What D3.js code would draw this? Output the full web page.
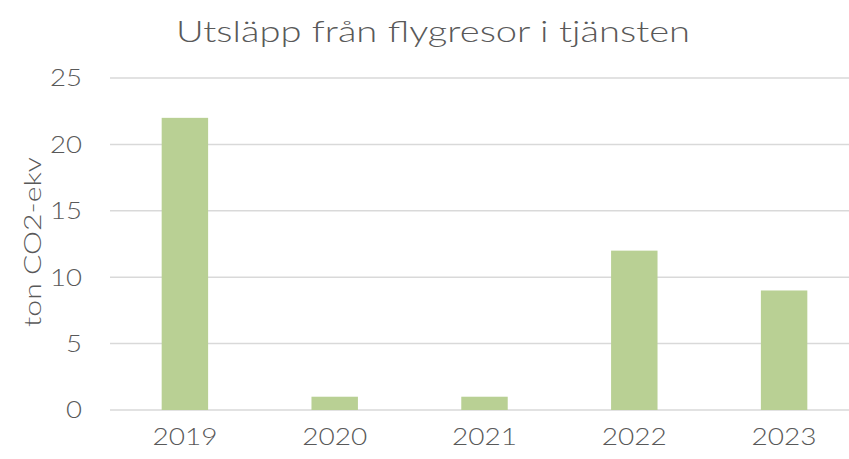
<!DOCTYPE html>
<html><head><meta charset="utf-8">
<script src="https://cdn.jsdelivr.net/npm/d3@7"></script>
<style>body{margin:0;background:#fff;}svg{display:block;}</style>
</head><body>
<svg id="chart" width="849" height="459"></svg>
<script>
const categories = ["2019","2020","2021","2022","2023"];
const values = [22, 1, 1, 12, 9];
const yTicks = [0,5,10,15,20,25];
const title = "Utsläpp från flygresor i tjänsten";
const yTitle = "ton CO2-ekv";

const svg = d3.select("#chart");
const W = 849, H = 459;
const font = "'Lato','Noto Sans',sans-serif";
const textColor = "#595959";

const x = d3.scaleBand().domain(categories).range([110, 859]).paddingInner(0.69).paddingOuter(0.345);
const y = d3.scaleLinear().domain([0,25]).range([410, 78]);

// gridlines
svg.append("g").selectAll("line").data(yTicks).join("line")
  .attr("x1", 110).attr("x2", W)
  .attr("y1", d => y(d)).attr("y2", d => y(d))
  .attr("stroke", "#d9d9d9").attr("stroke-width", 1.5);

// bars
svg.append("g").selectAll("rect").data(values).join("rect")
  .attr("x", (d,i) => x(categories[i]))
  .attr("width", x.bandwidth())
  .attr("y", d => y(d))
  .attr("height", d => y(0) - y(d))
  .attr("fill", "#b9d094");

// y tick labels
svg.append("g").selectAll("text").data(yTicks).join("text")
  .attr("x", 82).attr("y", d => y(d))
  .attr("dy", "0.35em")
  .attr("text-anchor", "end")
  .attr("font-family", font).attr("font-weight", 300)
  .attr("font-size", 24).attr("fill", textColor)
  .attr("textLength", d => String(d).length * 16)
  .attr("lengthAdjust", "spacingAndGlyphs")
  .text(d => d);

// x labels
svg.append("g").selectAll("text").data(categories).join("text")
  .attr("x", d => x(d) + x.bandwidth()/2).attr("y", 445)
  .attr("text-anchor", "middle")
  .attr("font-family", font).attr("font-weight", 300)
  .attr("font-size", 24).attr("fill", textColor)
  .attr("textLength", 65)
  .attr("lengthAdjust", "spacingAndGlyphs")
  .text(d => d);

// title
svg.append("text").attr("x", 433).attr("y", 42)
  .attr("text-anchor", "middle")
  .attr("font-family", font).attr("font-weight", 300)
  .attr("font-size", 29).attr("fill", textColor)
  .attr("textLength", 514)
  .attr("lengthAdjust", "spacingAndGlyphs")
  .text(title);

// y axis title
svg.append("text")
  .attr("transform", "translate(41,242) rotate(-90)")
  .attr("text-anchor", "middle")
  .attr("font-family", font).attr("font-weight", 300)
  .attr("font-size", 24).attr("fill", textColor)
  .attr("textLength", 170)
  .attr("lengthAdjust", "spacingAndGlyphs")
  .text(yTitle);
</script>
</body></html>
